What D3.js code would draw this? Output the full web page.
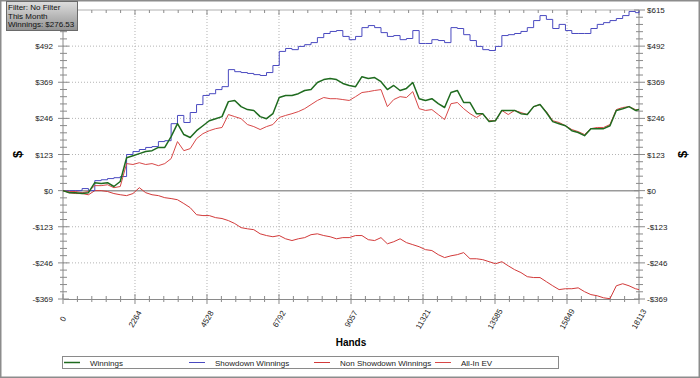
<!DOCTYPE html>
<html>
<head>
<meta charset="utf-8">
<script src="https://cdn.jsdelivr.net/npm/d3@7/dist/d3.min.js"></script>
<style>
  body { margin: 0; background: #fff; }
  svg { display: block; font-family: "Liberation Sans", Arial, sans-serif; }
</style>
</head>
<body>
<div class="container"></div>
<script>
const WIDTH = 700;
const HEIGHT = 378;

// hands played (x positions of the samples)
const hands = [
  0, 200, 400, 600, 800, 1000, 1200, 1400, 1600, 1800,
  2000, 2200, 2400, 2600, 2800, 3000, 3200, 3400, 3600, 3800,
  4000, 4200, 4400, 4600, 4800, 5000, 5200, 5400, 5600, 5800,
  6000, 6200, 6400, 6600, 6800, 7000, 7200, 7400, 7600, 7800,
  8000, 8200, 8400, 8600, 8800, 9000, 9200, 9400, 9600, 9800,
  10000, 10200, 10400, 10600, 10800, 11000, 11200, 11400, 11600, 11800,
  12000, 12200, 12400, 12600, 12800, 13000, 13200, 13400, 13600, 13800,
  14000, 14200, 14400, 14600, 14800, 15000, 15200, 15400, 15600, 15800,
  16000, 16200, 16400, 16600, 16800, 17000, 17200, 17400, 17600, 17800,
  18000, 18113
];

const xTicks = [0, 2264, 4528, 6792, 9057, 11321, 13585, 15849, 18113];
const yTicks = [-369, -246, -123, 0, 123, 246, 369, 492, 615];

const winnings = [
  0, -7, -7, -10, -7, 27, 24, 27, 14, 31,
  112, 119, 126, 133, 136, 147, 147, 184, 228, 191,
  181, 204, 221, 238, 245, 252, 303, 307, 286, 276,
  273, 252, 245, 262, 317, 324, 324, 330, 341, 344,
  368, 378, 382, 378, 365, 358, 354, 388, 382, 385,
  371, 344, 358, 341, 348, 368, 313, 307, 313, 296,
  283, 334, 341, 300, 300, 262, 262, 235, 238, 273,
  273, 273, 262, 259, 286, 293, 266, 235, 228, 221,
  204, 198, 187, 211, 211, 211, 221, 273, 279, 286,
  273, 276.53
];

const showdown = [
  0, 0, 0, 7, 0, 34, 37, 41, 44, 48,
  123, 133, 140, 147, 150, 167, 170, 228, 256, 232,
  266, 293, 324, 330, 344, 354, 412, 405, 402, 399,
  395, 392, 402, 426, 474, 484, 480, 491, 497, 504,
  521, 535, 542, 545, 525, 514, 525, 555, 562, 555,
  538, 525, 528, 514, 518, 545, 501, 501, 514, 511,
  504, 555, 552, 531, 511, 491, 480, 477, 491, 528,
  531, 535, 542, 555, 579, 596, 583, 552, 566, 545,
  535, 535, 535, 552, 566, 572, 579, 586, 596, 610,
  606, 613
];

const nonShowdown = [
  0, -7, -10, -10, -14, 0, 0, -3, -10, -14,
  -17, -10, 10, -7, -14, -17, -24, -27, -31, -44,
  -58, -82, -85, -85, -92, -95, -102, -112, -126, -130,
  -133, -147, -153, -157, -153, -164, -170, -164, -160, -150,
  -147, -153, -157, -164, -160, -160, -153, -153, -167, -170,
  -160, -181, -174, -164, -177, -184, -191, -201, -204, -218,
  -228, -222, -218, -211, -232, -232, -235, -242, -249, -242,
  -256, -269, -279, -293, -296, -296, -310, -324, -337, -334,
  -334, -331, -344, -354, -358, -365, -368, -324, -317, -324,
  -334, -337
];

const allInEV = [
  0, -3, -3, -7, -3, 17, 17, 20, 10, 14,
  92, 89, 95, 89, 92, 85, 92, 109, 167, 136,
  143, 177, 194, 204, 211, 215, 259, 252, 245, 225,
  218, 208, 218, 225, 249, 256, 262, 269, 279, 293,
  307, 317, 313, 313, 310, 307, 320, 334, 337, 341,
  344, 286, 310, 320, 317, 337, 279, 273, 276, 259,
  242, 296, 300, 279, 262, 249, 262, 238, 238, 273,
  259, 273, 266, 259, 286, 293, 269, 238, 232, 221,
  208, 201, 191, 211, 215, 215, 225, 276, 283, 286,
  276, 276
];

const seriesNames = ['Winnings', 'Showdown Winnings', 'Non Showdown Winnings', 'All-In EV'];
const seriesColors = ['#1f6b1f', '#4a4ac0', '#d23a3a', '#d84848'];
const infoLines = ['Filter: No Filter', 'This Month', 'Winnings: $276.53'];

const margin = { left: 63, right: 61, top: 10, bottom: 79 };
const plotRight = WIDTH - margin.right;
const plotBottom = HEIGHT - margin.bottom;

const x = d3.scaleLinear().domain([0, 18113]).range([margin.left, plotRight]);
const y = d3.scaleLinear().domain([-369, 615]).range([plotBottom, margin.top]);

const svg = d3.select('.container').append('svg')
  .attr('width', WIDTH)
  .attr('height', HEIGHT);

svg.append('rect')
  .attr('width', WIDTH).attr('height', HEIGHT)
  .attr('fill', '#fff');

// grid
var grid = svg.append('g').attr('class', 'grid');
grid.selectAll('.gx')
  .data(xTicks.slice(1, -1))
  .enter().append('line')
  .attr('x1', d => x(d)).attr('x2', d => x(d))
  .attr('y1', margin.top).attr('y2', plotBottom)
  .attr('stroke', '#b4b4b4')
  .attr('stroke-dasharray', '1,2');
grid.selectAll('.gy')
  .data(yTicks.filter(d => d !== 0 && d !== -369 && d !== 615))
  .enter().append('line')
  .attr('x1', margin.left).attr('x2', plotRight)
  .attr('y1', d => y(d)).attr('y2', d => y(d))
  .attr('stroke', '#b4b4b4')
  .attr('stroke-dasharray', '1,2');

// zero line
svg.append('line')
  .attr('x1', margin.left).attr('x2', plotRight)
  .attr('y1', y(0)).attr('y2', y(0))
  .attr('stroke', '#9a9a9a')
  .attr('stroke-width', 1.5);

// minor ticks, five steps per major interval
function minors(ticks) {
  var out = [];
  for (var i = 0; i < ticks.length - 1; i++) {
    var step = (ticks[i + 1] - ticks[i]) / 5;
    for (var j = 1; j < 5; j++) out.push(ticks[i] + step * j);
  }
  return out;
}

var axisColor = '#8a8a8a';

// bottom axis
var xAxis = d3.axisBottom(x).tickValues(xTicks).tickSize(0).tickFormat('');
svg.append('g')
  .attr('transform', 'translate(0,' + plotBottom + ')')
  .call(xAxis)
  .call(g => g.select('.domain').attr('stroke', axisColor));

// top axis line
svg.append('line')
  .attr('x1', margin.left).attr('x2', plotRight)
  .attr('y1', margin.top).attr('y2', margin.top)
  .attr('stroke', '#b0b0b0');

var ticksG = svg.append('g').attr('stroke', axisColor);
xTicks.forEach(function (d) {
  ticksG.append('line').attr('x1', x(d)).attr('x2', x(d))
    .attr('y1', plotBottom - 5).attr('y2', plotBottom + 5);
  ticksG.append('line').attr('x1', x(d)).attr('x2', x(d))
    .attr('y1', margin.top).attr('y2', margin.top + 5);
});
minors(xTicks).forEach(function (d) {
  ticksG.append('line').attr('x1', x(d)).attr('x2', x(d))
    .attr('y1', plotBottom - 3).attr('y2', plotBottom + 3);
  ticksG.append('line').attr('x1', x(d)).attr('x2', x(d))
    .attr('y1', margin.top).attr('y2', margin.top + 3);
});

// left and right axes
[margin.left, plotRight].forEach(function (ax) {
  ticksG.append('line').attr('x1', ax).attr('x2', ax)
    .attr('y1', margin.top).attr('y2', plotBottom);
  yTicks.forEach(function (d) {
    ticksG.append('line').attr('x1', ax - 5).attr('x2', ax + 6)
      .attr('y1', y(d)).attr('y2', y(d));
  });
  minors(yTicks).forEach(function (d) {
    ticksG.append('line').attr('x1', ax - 3).attr('x2', ax + 4)
      .attr('y1', y(d)).attr('y2', y(d));
  });
});

function money(d) {
  return (d < 0 ? '-$' : '$') + Math.abs(d);
}

// the top left label sits under the info box, so it is left out
svg.selectAll('.ylab-l')
  .data(yTicks.slice(0, -1))
  .enter().append('text')
  .attr('x', margin.left - 10)
  .attr('y', d => y(d) + 3)
  .attr('text-anchor', 'end')
  .attr('font-size', 8)
  .attr('fill', '#222')
  .text(money);

svg.selectAll('.ylab-r')
  .data(yTicks)
  .enter().append('text')
  .attr('x', plotRight + 8)
  .attr('y', d => y(d) + 3)
  .attr('font-size', 8)
  .attr('fill', '#222')
  .text(money);

svg.selectAll('.xlab')
  .data(xTicks)
  .enter().append('text')
  .attr('transform', d => 'translate(' + x(d) + ',' + (plotBottom + 20) + ') rotate(-60)')
  .attr('text-anchor', 'middle')
  .attr('dy', '0.35em')
  .attr('font-size', 8)
  .attr('fill', '#222')
  .text(d => d);

// axis titles
svg.append('text')
  .attr('x', (margin.left + plotRight) / 2)
  .attr('y', plotBottom + 47)
  .attr('text-anchor', 'middle')
  .attr('font-size', 10)
  .attr('font-weight', 'bold')
  .text('Hands');

[17, 682].forEach(function (tx) {
  svg.append('text')
    .attr('transform', 'translate(' + tx + ',' + y(123) + ') rotate(-90)')
    .attr('text-anchor', 'middle')
    .attr('dy', '0.35em')
    .attr('font-size', 13)
    .attr('font-weight', 'bold')
    .text('$');
});

// lines
var series = [nonShowdown, showdown, allInEV, winnings];
var order = [2, 1, 3, 0];
var line = d3.line()
  .x((d, i) => x(hands[i]))
  .y(d => y(d));
var stepLine = d3.line()
  .x((d, i) => x(hands[i]))
  .y(d => y(d))
  .curve(d3.curveStepAfter);

series.forEach(function (values, i) {
  var idx = order[i];
  svg.append('path')
    .datum(values)
    .attr('fill', 'none')
    .attr('stroke', seriesColors[idx])
    .attr('stroke-width', idx === 0 ? 1.5 : 1)
    .attr('stroke-linejoin', 'round')
    .attr('d', idx === 1 ? stepLine : line);
});

// legend
var legend = svg.append('g');
legend.append('rect')
  .attr('x', 62.5).attr('y', 356.5)
  .attr('width', 496).attr('height', 12)
  .attr('fill', '#fff')
  .attr('stroke', '#8a8a8a');
var legendX = [64, 189, 314, 435];
seriesNames.forEach(function (name, i) {
  legend.append('line')
    .attr('x1', legendX[i]).attr('x2', legendX[i] + 16)
    .attr('y1', 362.5).attr('y2', 362.5)
    .attr('stroke', seriesColors[i])
    .attr('stroke-width', i === 0 ? 1.5 : 1);
  legend.append('text')
    .attr('x', legendX[i] + 26)
    .attr('y', 365.5)
    .attr('font-size', 8)
    .attr('fill', '#222')
    .text(name);
});

// outer frame
svg.append('rect')
  .attr('x', 0.75).attr('y', 0.75)
  .attr('width', WIDTH - 1.5).attr('height', HEIGHT - 1.5)
  .attr('fill', 'none')
  .attr('stroke', '#8c8c8c')
  .attr('stroke-width', 1.5);

// info box
var defs = svg.append('defs');
var grad = defs.append('linearGradient')
  .attr('id', 'boxGrad')
  .attr('x1', 0).attr('y1', 0).attr('x2', 0).attr('y2', 1);
grad.append('stop').attr('offset', '0%').attr('stop-color', '#dedede');
grad.append('stop').attr('offset', '100%').attr('stop-color', '#929292');

svg.append('rect')
  .attr('x', 6.5).attr('y', 1.5)
  .attr('width', 71).attr('height', 29)
  .attr('fill', 'url(#boxGrad)')
  .attr('stroke', '#6a6a6a');

svg.selectAll('.info')
  .data(infoLines)
  .enter().append('text')
  .attr('x', 8)
  .attr('y', (d, i) => 10 + i * 8.5)
  .attr('font-size', 8)
  .attr('fill', '#111')
  .text(d => d);
</script>
</body>
</html>
